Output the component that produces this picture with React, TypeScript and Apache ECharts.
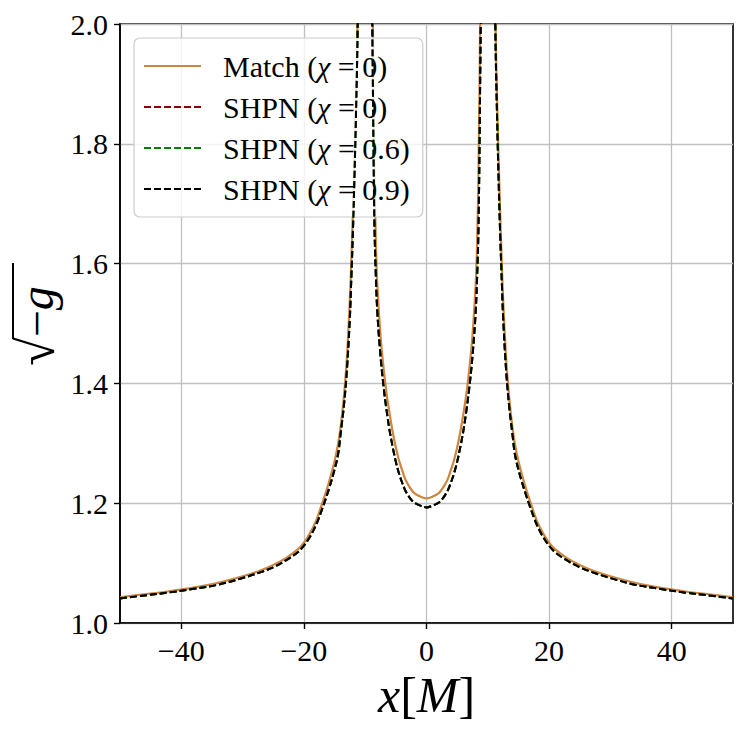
import React, { useEffect, useRef } from "react";
import * as echarts from "echarts";

// x positions (M)
const xValues = [
  -50, -46, -42, -38, -34, -30, -27, -25, -23, -21, -20, -19, -18, -17, -16, -15, -14.4, -14, -13.5, -13, -12.5, -12.3, -12, -11.75, -11.5, -11.25, -11, -10.8,
  -9.2, -9, -8.75, -8.5, -8.25, -8, -7.5, -7, -6.5, -6, -5.5, -5, -4.5, -4, -3.5, -3, -2.5, -2, -1,
  0,
  1, 2, 2.5, 3, 3.5, 4, 4.5, 5, 5.5, 6, 6.5, 7, 7.5, 8, 8.25, 8.5, 8.75, 9, 9.2,
  10.8, 11, 11.25, 11.5, 11.75, 12, 12.3, 12.5, 13, 13.5, 14, 14.4, 15, 16, 17, 18, 19, 20, 21, 23, 25, 27, 30, 34, 38, 42, 46, 50,
];

// Match (chi = 0)
const matchValues = [
  1.043, 1.048, 1.053, 1.059, 1.067, 1.078, 1.088, 1.097, 1.108, 1.123, 1.134, 1.15, 1.171, 1.2, 1.232, 1.27, 1.3, 1.328, 1.375, 1.44, 1.54, 1.595, 1.69, 1.78, 1.88, 2.01, 2.3, 2.65,
  2.8, 2.32, 2.0, 1.77, 1.63, 1.56, 1.48, 1.425, 1.382, 1.348, 1.318, 1.293, 1.272, 1.256, 1.241, 1.231, 1.223, 1.217, 1.211,
  1.208,
  1.211, 1.217, 1.223, 1.231, 1.241, 1.256, 1.272, 1.293, 1.318, 1.348, 1.382, 1.425, 1.48, 1.56, 1.63, 1.77, 2.0, 2.32, 2.8,
  2.65, 2.3, 2.01, 1.88, 1.78, 1.69, 1.595, 1.54, 1.44, 1.375, 1.328, 1.3, 1.27, 1.232, 1.2, 1.171, 1.15, 1.134, 1.123, 1.108, 1.097, 1.088, 1.078, 1.067, 1.059, 1.053, 1.048, 1.043,
];

// SHPN (chi = 0)
const shpnChi0 = [
  1.041, 1.046, 1.051, 1.057, 1.064, 1.075, 1.085, 1.093, 1.104, 1.118, 1.129, 1.144, 1.164, 1.191, 1.221, 1.256, 1.283, 1.317, 1.36, 1.42, 1.51, 1.565, 1.655, 1.745, 1.85, 1.98, 2.25, 2.6,
  2.65, 2.19, 1.9, 1.67, 1.575, 1.515, 1.445, 1.394, 1.354, 1.32, 1.293, 1.269, 1.25, 1.235, 1.222, 1.213, 1.206, 1.201, 1.196,
  1.193,
  1.196, 1.201, 1.206, 1.213, 1.222, 1.235, 1.25, 1.269, 1.293, 1.32, 1.354, 1.394, 1.445, 1.515, 1.575, 1.67, 1.9, 2.19, 2.65,
  2.6, 2.25, 1.98, 1.85, 1.745, 1.655, 1.565, 1.51, 1.42, 1.36, 1.317, 1.283, 1.256, 1.221, 1.191, 1.164, 1.144, 1.129, 1.118, 1.104, 1.093, 1.085, 1.075, 1.064, 1.057, 1.051, 1.046, 1.041,
];

// SHPN (chi = 0.6)
const shpnChi06 = [
  1.041, 1.046, 1.051, 1.057, 1.064, 1.075, 1.085, 1.093, 1.104, 1.118, 1.129, 1.144, 1.164, 1.191, 1.221, 1.256, 1.283, 1.317, 1.36, 1.42, 1.51, 1.565, 1.655, 1.745, 1.85, 1.98, 2.25, 2.6,
  2.65, 2.19, 1.9, 1.67, 1.575, 1.515, 1.445, 1.394, 1.354, 1.32, 1.293, 1.269, 1.25, 1.235, 1.222, 1.213, 1.206, 1.201, 1.196,
  1.193,
  1.196, 1.201, 1.206, 1.213, 1.222, 1.235, 1.25, 1.269, 1.293, 1.32, 1.354, 1.394, 1.445, 1.515, 1.575, 1.67, 1.9, 2.19, 2.65,
  2.6, 2.25, 1.98, 1.85, 1.745, 1.655, 1.565, 1.51, 1.42, 1.36, 1.317, 1.283, 1.256, 1.221, 1.191, 1.164, 1.144, 1.129, 1.118, 1.104, 1.093, 1.085, 1.075, 1.064, 1.057, 1.051, 1.046, 1.041,
];

// SHPN (chi = 0.9)
const shpnChi09 = [
  1.041, 1.046, 1.051, 1.057, 1.064, 1.075, 1.085, 1.093, 1.104, 1.118, 1.129, 1.144, 1.164, 1.191, 1.221, 1.256, 1.283, 1.317, 1.36, 1.42, 1.51, 1.565, 1.655, 1.745, 1.85, 1.98, 2.25, 2.6,
  2.65, 2.19, 1.9, 1.67, 1.575, 1.515, 1.445, 1.394, 1.354, 1.32, 1.293, 1.269, 1.25, 1.235, 1.222, 1.213, 1.206, 1.201, 1.196,
  1.193,
  1.196, 1.201, 1.206, 1.213, 1.222, 1.235, 1.25, 1.269, 1.293, 1.32, 1.354, 1.394, 1.445, 1.515, 1.575, 1.67, 1.9, 2.19, 2.65,
  2.6, 2.25, 1.98, 1.85, 1.745, 1.655, 1.565, 1.51, 1.42, 1.36, 1.317, 1.283, 1.256, 1.221, 1.191, 1.164, 1.144, 1.129, 1.118, 1.104, 1.093, 1.085, 1.075, 1.064, 1.057, 1.051, 1.046, 1.041,
];

const xTicks = [-40, -20, 0, 20, 40];
const seriesNames = ["Match (χ = 0)", "SHPN (χ = 0)", "SHPN (χ = 0.6)", "SHPN (χ = 0.9)"];
const seriesColors = ["#CD853F", "#8B0000", "#008000", "#000000"];

const FONT = "'Liberation Serif', 'Times New Roman', serif";

export default function App() {
  const ref = useRef<HTMLDivElement>(null);

  useEffect(() => {
    if (!ref.current) return;
    const chart = echarts.init(ref.current, null, { renderer: "svg" });
    const pairs = (ys: number[]) => xValues.map((x, i) => [x, ys[i]]);
    const allY = [matchValues, shpnChi0, shpnChi06, shpnChi09];

    chart.setOption({
      animation: false,
      backgroundColor: "#ffffff",
      grid: {
        left: 120,
        right: 14,
        top: 24,
        bottom: 109,
        show: true,
        borderColor: "#000",
        borderWidth: 1.6,
        backgroundColor: "transparent",
      },
      xAxis: {
        type: "value",
        min: -50,
        max: 50,
        minInterval: 20,
        maxInterval: 20,
        axisLine: { show: true, onZero: false, lineStyle: { color: "#000", width: 1.6 } },
        axisTick: {
          show: true,
          inside: false,
          length: 6,
          customValues: xTicks,
          lineStyle: { color: "#000", width: 1.4 },
        },
        axisLabel: {
          customValues: xTicks,
          formatter: (v: number) => String(v).replace("-", "\u2212"),
          color: "#000",
          fontFamily: FONT,
          fontSize: 30,
          margin: 12,
        },
        splitLine: { show: true, lineStyle: { color: "#c0c0c0", width: 1.3 } },
        name: "{i|x}{n|[}{i|M}{n|]}",
        nameLocation: "middle",
        nameGap: 36,
        nameTextStyle: {
          rich: {
            i: { fontFamily: FONT, fontStyle: "italic", fontSize: 50, color: "#000" },
            n: { fontFamily: FONT, fontSize: 50, color: "#000" },
          },
        },
      },
      yAxis: {
        type: "value",
        min: 1,
        max: 2,
        interval: 0.2,
        axisLine: { show: true, onZero: false, lineStyle: { color: "#000", width: 1.6 } },
        axisTick: { show: true, inside: false, length: 6, lineStyle: { color: "#000", width: 1.4 } },
        axisLabel: {
          formatter: (v: number) => v.toFixed(1),
          color: "#000",
          fontFamily: FONT,
          fontSize: 30,
          margin: 12,
        },
        splitLine: { show: true, lineStyle: { color: "#c0c0c0", width: 1.3 } },
      },
      legend: {
        orient: "vertical",
        left: 134,
        top: 38,
        itemWidth: 57,
        itemHeight: 14,
        itemGap: 11,
        padding: [13, 13, 13, 9],
        backgroundColor: "rgba(255,255,255,0.8)",
        borderColor: "#cccccc",
        borderWidth: 1.2,
        borderRadius: 6,
        data: seriesNames,
        itemStyle: { opacity: 0 },
        formatter: (name: string) => name.replace("χ", "{i|χ}"),
        textStyle: {
          fontFamily: FONT,
          fontSize: 30,
          lineHeight: 28,
          color: "#000",
          padding: [0, 0, 0, 17],
          rich: {
            i: { fontFamily: FONT, fontStyle: "italic", fontSize: 30, lineHeight: 28, color: "#000" },
          },
        },
      },
      graphic: [
        {
          type: "text",
          x: 36,
          y: 326,
          rotation: Math.PI / 2,
          style: {
            text: "{r|√}{m|−}{i|g}",
            align: "center",
            verticalAlign: "middle",
            rich: {
              r: { fontFamily: FONT, fontSize: 52, fill: "#000" },
              m: { fontFamily: FONT, fontSize: 48, fill: "#000" },
              i: { fontFamily: FONT, fontStyle: "italic", fontSize: 48, fill: "#000" },
            },
          },
        },
        {
          type: "line",
          shape: { x1: 13, y1: 263, x2: 13, y2: 339 },
          style: { stroke: "#000", lineWidth: 2 },
        },
      ],
      series: seriesNames.map((name, k) => ({
        type: "line",
        name,
        data: pairs(allY[k]),
        symbol: "none",
        smooth: 0.35,
        clip: true,
        z: 2 + k,
        itemStyle: { color: seriesColors[k] },
        lineStyle:
          k === 0
            ? { color: seriesColors[k], width: 2.2 }
            : { color: seriesColors[k], width: 2, type: [7, 3] },
      })),
    });

    return () => chart.dispose();
  }, []);

  return (
    <div
      ref={ref}
      style={{ position: "fixed", left: 0, top: 0, width: 747, height: 732 }}
    />
  );
}
